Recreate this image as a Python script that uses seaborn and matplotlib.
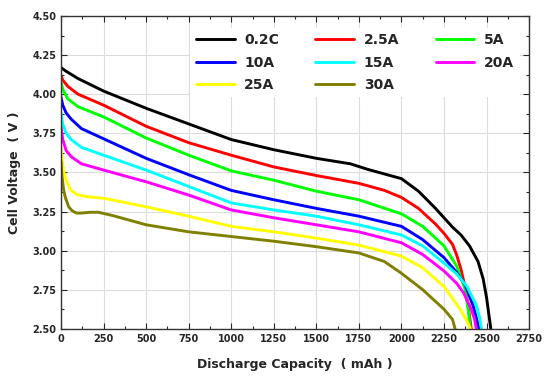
import numpy as np
import pandas as pd
import matplotlib
matplotlib.use("Agg")
import matplotlib.pyplot as plt
import seaborn as sns
from matplotlib.ticker import MultipleLocator

# curvas de descarga (capacidade em mAh, tensão em V)
cap_02c = [0, 25, 100, 250, 500, 750, 1000, 1250, 1500, 1700, 1800, 1900, 2000, 2100, 2200, 2250, 2300,
           2350, 2400, 2450, 2480, 2500, 2515, 2525]
v_02c = [4.17, 4.15, 4.10, 4.02, 3.91, 3.81, 3.71, 3.645, 3.59, 3.555, 3.52, 3.49, 3.46, 3.38, 3.27, 3.21, 3.15,
         3.10, 3.03, 2.93, 2.82, 2.70, 2.58, 2.50]

cap_25a = [0, 10, 40, 100, 250, 500, 750, 1000, 1250, 1500, 1750, 1900, 2000, 2100, 2200, 2250, 2300,
           2325, 2350, 2375, 2395, 2410]
v_25a = [4.12, 4.09, 4.05, 4.00, 3.93, 3.795, 3.69, 3.61, 3.535, 3.48, 3.43, 3.385, 3.34, 3.27, 3.17, 3.11, 3.04,
         2.97, 2.88, 2.76, 2.62, 2.50]

cap_5a = [0, 10, 40, 100, 250, 500, 750, 1000, 1250, 1500, 1750, 2000, 2125, 2250, 2325, 2375, 2395, 2405]
v_5a = [4.08, 4.03, 3.97, 3.92, 3.855, 3.72, 3.61, 3.51, 3.45, 3.38, 3.325, 3.235, 3.155, 3.03, 2.90, 2.75,
        2.60, 2.50]

cap_10a = [0, 10, 30, 60, 120, 250, 500, 750, 1000, 1250, 1500, 1750, 2000, 2125, 2250, 2325, 2375, 2420,
           2440, 2455]
v_10a = [3.98, 3.93, 3.88, 3.84, 3.78, 3.715, 3.59, 3.485, 3.385, 3.325, 3.27, 3.22, 3.155, 3.07, 2.955, 2.86,
         2.78, 2.65, 2.57, 2.50]

cap_15a = [0, 10, 30, 60, 120, 250, 500, 750, 1000, 1250, 1500, 1750, 2000, 2125, 2250, 2325, 2385, 2440,
           2460, 2470]
v_15a = [3.88, 3.81, 3.75, 3.71, 3.66, 3.61, 3.515, 3.41, 3.305, 3.26, 3.22, 3.165, 3.10, 3.03, 2.92, 2.85,
         2.77, 2.65, 2.57, 2.50]

cap_20a = [0, 10, 30, 60, 120, 250, 500, 750, 1000, 1250, 1500, 1750, 2000, 2125, 2250, 2325, 2365, 2410,
           2430, 2440]
v_20a = [3.79, 3.71, 3.64, 3.60, 3.555, 3.515, 3.44, 3.355, 3.26, 3.21, 3.165, 3.12, 3.05, 2.975, 2.87, 2.79,
         2.73, 2.625, 2.56, 2.50]

cap_25a_b = [0, 5, 15, 30, 55, 90, 150, 250, 500, 750, 1000, 1250, 1500, 1750, 2000, 2125, 2250, 2345,
             2385, 2405]
v_25a_b = [3.66, 3.60, 3.51, 3.45, 3.39, 3.36, 3.345, 3.335, 3.28, 3.22, 3.155, 3.12, 3.08, 3.035, 2.965, 2.89,
           2.77, 2.625, 2.55, 2.50]

cap_30a = [0, 5, 15, 25, 45, 65, 90, 120, 170, 220, 300, 400, 500, 750, 1000, 1250, 1500, 1750, 1900, 2000,
           2125, 2250, 2300, 2315]
v_30a = [3.57, 3.48, 3.39, 3.34, 3.28, 3.255, 3.24, 3.24, 3.245, 3.245, 3.225, 3.195, 3.165, 3.12, 3.09, 3.06,
         3.025, 2.985, 2.93, 2.855, 2.75, 2.625, 2.56, 2.50]

nomes = ['0.2C', '2.5A', '5A', '10A', '15A', '20A', '25A', '30A']
cores = ['#000000', '#ff0000', '#00ff00', '#0000ff', '#00ffff', '#ff00ff', '#ffff00', '#808000']
curvas = [(cap_02c, v_02c), (cap_25a, v_25a), (cap_5a, v_5a), (cap_10a, v_10a),
          (cap_15a, v_15a), (cap_20a, v_20a), (cap_25a_b, v_25a_b), (cap_30a, v_30a)]

# dataframe longo
partes = []
for nome, (c, v) in zip(nomes, curvas):
    partes.append(pd.DataFrame({'cap': c, 'v': v, 'taxa': nome}))
dados = pd.concat(partes, ignore_index=True)

sns.set_style("ticks")
plt.rcParams['font.family'] = ['DejaVu Sans']

fig = plt.figure(figsize=(5.5, 3.81), dpi=100)
ax = fig.add_axes([0.111, 0.137, 0.851, 0.821])

sns.lineplot(data=dados, x='cap', y='v', hue='taxa', hue_order=nomes, palette=cores,
             sort=False, estimator=None, linewidth=2.1, legend=False, ax=ax)

ax.set_xlim(0, 2750)
ax.set_ylim(2.5, 4.5)
ax.xaxis.set_major_locator(MultipleLocator(250))
ax.xaxis.set_minor_locator(MultipleLocator(125))
ax.yaxis.set_major_locator(MultipleLocator(0.25))
ax.yaxis.set_minor_locator(MultipleLocator(0.125))
ax.yaxis.set_major_formatter(matplotlib.ticker.FormatStrFormatter('%.2f'))

ax.tick_params(which='both', direction='in', top=True, right=True, labelsize=7, width=0.8)
ax.tick_params(which='major', length=4)
ax.tick_params(which='minor', length=2)
for lab in ax.get_xticklabels() + ax.get_yticklabels():
    lab.set_fontweight('bold')

ax.grid(True, which='major', color='#dcdcdc', linewidth=0.8)
ax.set_axisbelow(True)
for s in ax.spines.values():
    s.set_color('#333333')
    s.set_linewidth(1.0)

ax.set_xlabel('Discharge Capacity  ( mAh )', fontsize=9, fontweight='bold', labelpad=10)
ax.set_ylabel('Cell Voltage  ( V )', fontsize=9, fontweight='bold', labelpad=8)

# legenda em 3 colunas, ordenada por linhas
linhas = ax.get_lines()[:8]
ordem = [0, 3, 6, 1, 4, 7, 2, 5]
leg = ax.legend([linhas[i] for i in ordem], [nomes[i] for i in ordem], ncol=3,
                loc='upper right', bbox_to_anchor=(0.995, 0.985),
                prop={'weight': 'bold', 'size': 10}, handlelength=2.8, handletextpad=0.7,
                columnspacing=2.6, labelspacing=0.6, frameon=True, fancybox=False,
                borderpad=0.4)
leg.get_frame().set_facecolor('white')
leg.get_frame().set_edgecolor('none')
leg.get_frame().set_alpha(1.0)

fig.savefig('out.png', dpi=100)
